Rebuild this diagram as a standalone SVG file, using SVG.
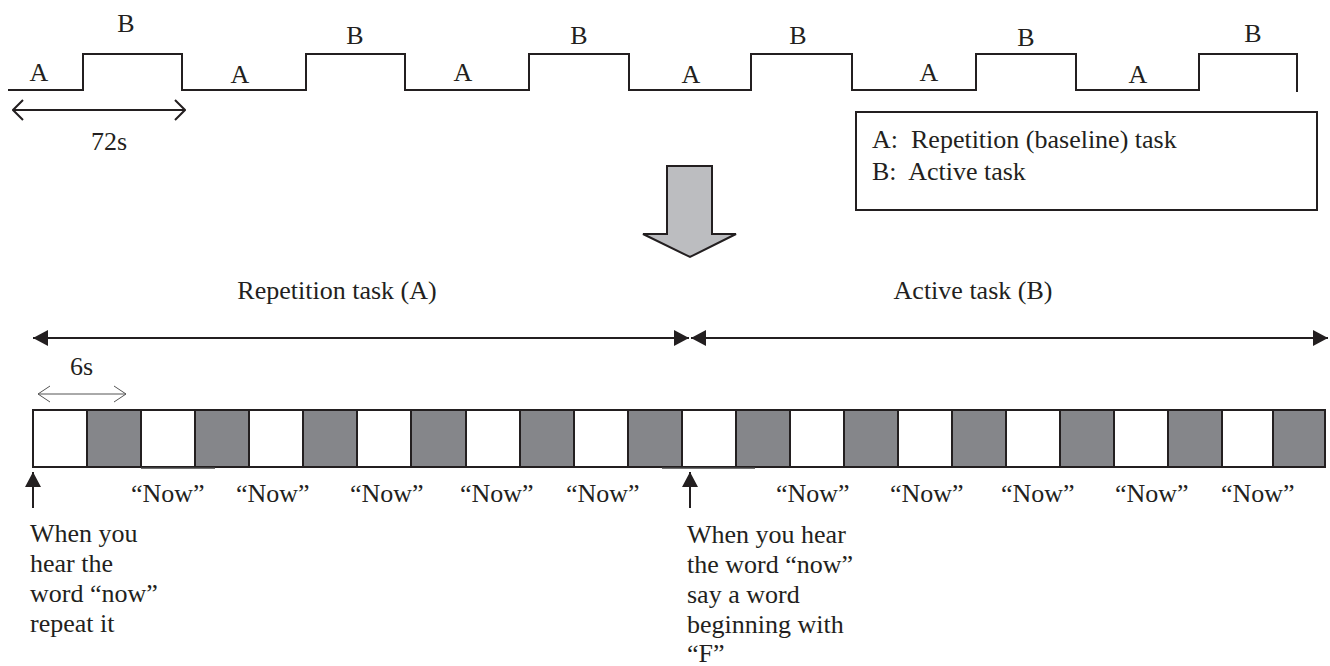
<svg xmlns="http://www.w3.org/2000/svg" width="1330" height="666" viewBox="0 0 1330 666">
<style>
text{font-family:"Liberation Serif","Times New Roman",serif;font-size:26px;fill:#231f20;white-space:pre}
.ln{fill:none;stroke:#231f20;stroke-width:2}
.w{fill:#ffffff;stroke:#231f20;stroke-width:2}
.g{fill:#85868a;stroke:#231f20;stroke-width:2}
.mid{text-anchor:middle}
</style>
<defs>
<marker id="tri" viewBox="0 0 15 16" refX="15" refY="8" markerWidth="15" markerHeight="16" markerUnits="userSpaceOnUse" orient="auto-start-reverse">
<path d="M0,0 L15,8 L0,16 z" fill="#231f20"/>
</marker>
<marker id="chev" viewBox="0 0 12 22" refX="11" refY="11" markerWidth="12" markerHeight="22" markerUnits="userSpaceOnUse" orient="auto-start-reverse">
<path d="M1,1 L11,11 L1,21" fill="none" stroke="#231f20" stroke-width="2"/>
</marker>
<marker id="chevThin" viewBox="0 0 14 18" refX="13" refY="9" markerWidth="14" markerHeight="18" markerUnits="userSpaceOnUse" orient="auto-start-reverse">
<path d="M1,1 L13,9 L1,17" fill="none" stroke="#555" stroke-width="1"/>
</marker>
</defs>
<rect width="1330" height="666" fill="#ffffff"/>

<g id="block-wave">
<path class="ln" d="M8,90 H83 V54 H182 V90 H306 V54 H405 V90 H529 V54 H629 V90 H751 V54 H852 V90 H976 V54 H1076 V90 H1199 V54 H1297 V92"/>
<text x="39" y="81" class="mid">A</text>
<text x="126" y="32" class="mid">B</text>
<text x="240" y="83" class="mid">A</text>
<text x="355" y="44" class="mid">B</text>
<text x="463" y="81" class="mid">A</text>
<text x="579" y="44" class="mid">B</text>
<text x="691" y="83" class="mid">A</text>
<text x="798" y="44" class="mid">B</text>
<text x="929" y="81" class="mid">A</text>
<text x="1026" y="46" class="mid">B</text>
<text x="1138" y="83" class="mid">A</text>
<text x="1253" y="42" class="mid">B</text>
</g>

<g id="legend">
<rect x="856" y="112" width="461" height="98" fill="none" stroke="#231f20" stroke-width="2"/>
<text x="872" y="148">A:  Repetition (baseline) task</text>
<text x="872" y="180">B:  Active task</text>
</g>

<g id="big-arrow">
<path d="M667,166 H712 V234 H736 L690,257 L643,234 H667 Z" fill="#bcbdc0" stroke="#231f20" stroke-width="2" stroke-linejoin="miter"/>
</g>

<g id="labels">
<text x="109" y="150" class="mid">72s</text>
<text x="337" y="299" class="mid">Repetition task (A)</text>
<text x="973" y="299" class="mid">Active task (B)</text>
<text x="70" y="375">6s</text>
</g>

<g id="timeline-bar">
<rect class="w" x="33" y="410" width="54" height="57"/>
<rect class="g" x="87" y="410" width="54" height="57"/>
<rect class="w" x="141" y="410" width="54" height="57"/>
<rect class="g" x="195" y="410" width="54" height="57"/>
<rect class="w" x="249" y="410" width="54" height="57"/>
<rect class="g" x="303" y="410" width="54" height="57"/>
<rect class="w" x="357" y="410" width="54" height="57"/>
<rect class="g" x="411" y="410" width="55" height="57"/>
<rect class="w" x="466" y="410" width="54" height="57"/>
<rect class="g" x="520" y="410" width="54" height="57"/>
<rect class="w" x="574" y="410" width="54" height="57"/>
<rect class="g" x="628" y="410" width="54" height="57"/>
<rect class="w" x="682" y="410" width="54" height="57"/>
<rect class="g" x="736" y="410" width="54" height="57"/>
<rect class="w" x="790" y="410" width="54" height="57"/>
<rect class="g" x="844" y="410" width="54" height="57"/>
<rect class="w" x="898" y="410" width="54" height="57"/>
<rect class="g" x="952" y="410" width="54" height="57"/>
<rect class="w" x="1006" y="410" width="54" height="57"/>
<rect class="g" x="1060" y="410" width="54" height="57"/>
<rect class="w" x="1114" y="410" width="54" height="57"/>
<rect class="g" x="1168" y="410" width="54" height="57"/>
<rect class="w" x="1222" y="410" width="51" height="57"/>
<rect class="g" x="1273" y="410" width="52" height="57"/>
<path d="M141,468 H215 M662,468 H755" stroke="#444" stroke-width="1.5" fill="none"/>
</g>

<g id="now-labels">
<text x="131" y="502">“Now”</text>
<text x="236" y="502">“Now”</text>
<text x="350" y="502">“Now”</text>
<text x="460" y="502">“Now”</text>
<text x="566" y="502">“Now”</text>
<text x="776" y="502">“Now”</text>
<text x="890" y="502">“Now”</text>
<text x="1001" y="502">“Now”</text>
<text x="1115" y="502">“Now”</text>
<text x="1221" y="502">“Now”</text>
</g>

<g id="instruction-a">
<text x="30" y="542">When you</text>
<text x="30" y="572">hear the</text>
<text x="30" y="602">word “now”</text>
<text x="30" y="632">repeat it</text>
</g>

<g id="instruction-b">
<text x="687" y="543">When you hear</text>
<text x="687" y="573">the word “now”</text>
<text x="687" y="603">say a word</text>
<text x="687" y="633">beginning with</text>
<text x="687" y="662">“F”</text>
</g>

<g id="connectors">
<line class="ln" x1="13" y1="110" x2="185" y2="110" marker-start="url(#chev)" marker-end="url(#chev)"/>
<line class="ln" x1="33" y1="338" x2="689" y2="338" stroke-width="2.5" marker-start="url(#tri)" marker-end="url(#tri)"/>
<line class="ln" x1="691" y1="338" x2="1328" y2="338" stroke-width="2.5" marker-start="url(#tri)" marker-end="url(#tri)"/>
<line x1="38" y1="394" x2="126" y2="394" stroke="#555" stroke-width="1" marker-start="url(#chevThin)" marker-end="url(#chevThin)"/>
<line class="ln" x1="33" y1="508" x2="33" y2="472" marker-end="url(#tri)"/>
<line class="ln" x1="690" y1="508" x2="690" y2="472" marker-end="url(#tri)"/>
</g>
</svg>
